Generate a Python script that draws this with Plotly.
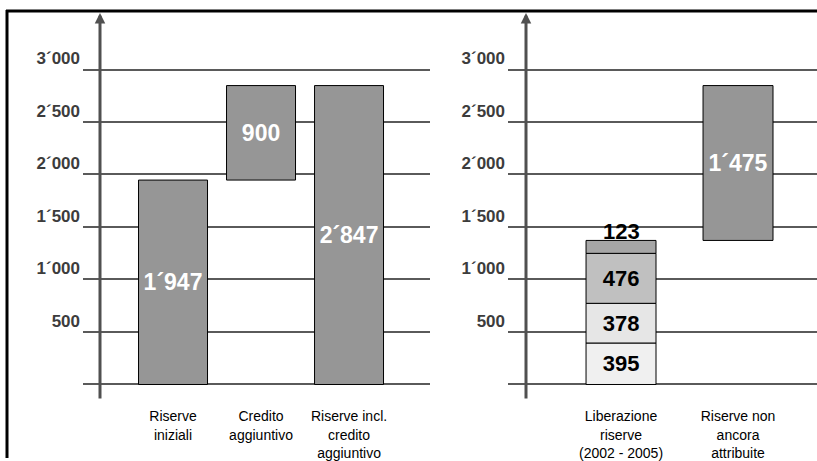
import numpy as np
import plotly.graph_objects as go

# ---- data ----
left_categories = ["Riserve<br>iniziali", "Credito<br>aggiuntivo", "Riserve incl.<br>credito<br>aggiuntivo"]
riserve_iniziali = 1947
credito_aggiuntivo = 900
riserve_incl = 2847

right_categories = ["Liberazione<br>riserve<br>(2002 - 2005)", "Riserve non<br>ancora<br>attribuite"]
liberazione_segments = [395, 378, 476, 123]
segment_colors = ["#f0f0f0", "#e6e6e6", "#c0c0c0", "#a6a6a6"]
riserve_non_attribuite = 1475

y_tick_values = [500, 1000, 1500, 2000, 2500, 3000]
y_tick_labels = ["500", "1´000", "1´500", "2´000", "2´500", "3´000"]


def fmt(v):
    return f"{v:,}".replace(",", "´")


W, H = 817, 461
BAR_GRAY = "#969696"
GRID = "#5a5a5a"
FONT = "Liberation Sans"

fig = go.Figure()

# ---- left panel ----
left_vals = [riserve_iniziali, credito_aggiuntivo, riserve_incl]
left_bases = [0, riserve_iniziali, 0]
fig.add_trace(go.Bar(
    x=left_categories, y=left_vals, base=left_bases,
    width=0.784,
    marker=dict(color=BAR_GRAY, line=dict(color="#000000", width=1)),
    text=[fmt(v) for v in left_vals], textposition="inside", insidetextanchor="middle",
    textangle=0, constraintext="none",
    textfont=dict(family=FONT, size=23, color="white", weight="bold"),
    xaxis="x", yaxis="y", showlegend=False, hoverinfo="skip", cliponaxis=False,
))

# ---- right panel: stacked segments ----
bases = np.concatenate([[0], np.cumsum(liberazione_segments)[:-1]])
n = len(liberazione_segments)
seg_font = dict(family=FONT, size=22, color="black", weight="bold")
for i, (v, b, c) in enumerate(zip(liberazione_segments, bases, segment_colors)):
    last = i == n - 1
    fig.add_trace(go.Bar(
        x=[right_categories[0]], y=[v], base=[b], width=0.598,
        marker=dict(color=c, line=dict(color="#000000", width=1)),
        text=None if last else [fmt(v)], textposition="inside",
        insidetextanchor="middle", textangle=0, constraintext="none",
        textfont=seg_font,
        xaxis="x2", yaxis="y2", showlegend=False, hoverinfo="skip", cliponaxis=False,
    ))

total_lib = int(np.sum(liberazione_segments))
# label of the thin top segment, sitting on its upper edge
fig.add_annotation(
    x=right_categories[0], y=total_lib, xref="x2", yref="y2",
    text=fmt(liberazione_segments[-1]), showarrow=False,
    yanchor="middle", yshift=9, font=seg_font,
)

fig.add_trace(go.Bar(
    x=[right_categories[1]], y=[riserve_non_attribuite], base=[total_lib], width=0.598,
    marker=dict(color=BAR_GRAY, line=dict(color="#000000", width=1)),
    text=[fmt(riserve_non_attribuite)], textposition="inside", insidetextanchor="middle",
    textangle=0, constraintext="none",
    textfont=dict(family=FONT, size=23, color="white", weight="bold"),
    xaxis="x2", yaxis="y2", showlegend=False, hoverinfo="skip", cliponaxis=False,
))

# ---- axes ----
y_dom = [1 - 400 / H, 1 - 13 / H]
y_range = [-123, 3539]
tick_font = dict(family=FONT, size=17, color="#3c3c3c", weight="bold")
yax = dict(
    domain=y_dom, range=y_range, tickmode="array", tickvals=y_tick_values, ticktext=y_tick_labels,
    showgrid=True, gridcolor=GRID, gridwidth=2, zeroline=True, zerolinecolor=GRID, zerolinewidth=2,
    showline=False, ticks="", ticklabelshift=-11, ticklabelstandoff=2,
    tickfont=tick_font,
    fixedrange=True,
)
xax = dict(
    showgrid=False, zeroline=False, showline=False, ticks="", type="category",
    ticklabelstandoff=9,
    tickfont=dict(family=FONT, size=14, color="black"), fixedrange=True,
)

fig.update_layout(
    width=W, height=H, margin=dict(l=0, r=0, t=0, b=0),
    paper_bgcolor="white", plot_bgcolor="white",
    barmode="overlay", showlegend=False,
    xaxis=dict(xax, domain=[83 / W, 430 / W], range=[-1.023, 2.92], anchor="y"),
    yaxis=dict(yax, anchor="x"),
    xaxis2=dict(xax, domain=[508 / W, 1.0], range=[-0.966, 1.675], anchor="y2"),
    yaxis2=dict(yax, anchor="x2"),
)
fig.update_yaxes(tickfont=tick_font)

# vertical axis arrows
for xpx in (100, 526):
    fig.add_annotation(
        x=xpx / W, y=y_range[1], xref="paper", yref="y",
        ax=0, ay=387, axref="pixel", ayref="pixel",
        text="", showarrow=True, arrowhead=2, arrowsize=0.7, arrowwidth=3,
        arrowcolor="#505050", standoff=0,
    )

# frame lines (top and left)
fig.add_shape(type="line", xref="paper", yref="paper", x0=6 / W, x1=1, y0=1 - 11 / H, y1=1 - 11 / H,
              line=dict(color="black", width=3))
fig.add_shape(type="line", xref="paper", yref="paper", x0=7 / W, x1=7 / W, y0=0, y1=1 - 10 / H,
              line=dict(color="black", width=3))

fig.write_html("out.html")
